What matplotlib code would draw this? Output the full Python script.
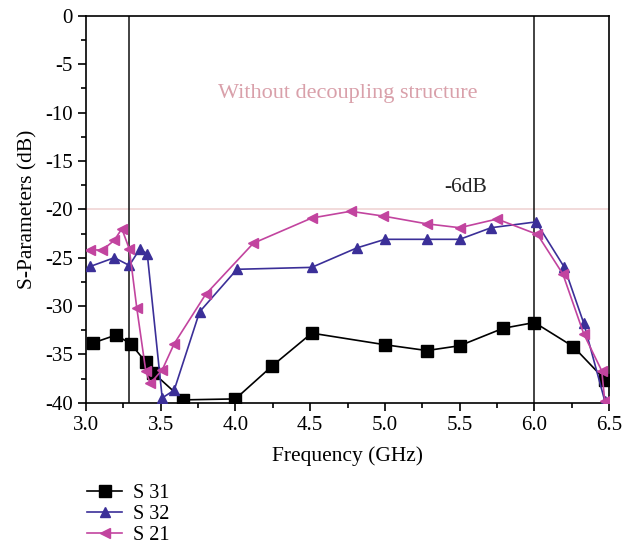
import matplotlib
matplotlib.use("Agg")
import matplotlib.pyplot as plt
from matplotlib.ticker import MultipleLocator

plt.rcParams['font.family'] = ['Liberation Serif', 'DejaVu Serif']
plt.rcParams['axes.unicode_minus'] = False

# S31 (black squares)
f31 = [3.05, 3.20, 3.30, 3.40, 3.45, 3.65, 4.00, 4.245, 4.51, 5.00, 5.28, 5.50, 5.79, 6.00, 6.26, 6.47]
s31 = [-33.8, -33.0, -33.9, -35.8, -36.9, -39.7, -39.6, -36.2, -32.8, -34.0, -34.6, -34.1, -32.3, -31.7, -34.2, -37.6]

# S32 (blue triangles)
f32 = [3.03, 3.19, 3.29, 3.36, 3.41, 3.51, 3.59, 3.76, 4.01, 4.51, 4.81, 5.00, 5.28, 5.50, 5.71, 6.01, 6.20, 6.33, 6.47]
s32 = [-25.9, -25.0, -25.8, -24.1, -24.6, -39.5, -38.7, -30.6, -26.2, -26.0, -24.0, -23.1, -23.1, -23.1, -21.9, -21.3, -26.0, -31.8, -39.8]

# S21 (pink left triangles)
f21 = [3.03, 3.11, 3.19, 3.24, 3.29, 3.34, 3.40, 3.43, 3.51, 3.59, 3.80, 4.12, 4.51, 4.77, 4.99, 5.28, 5.50, 5.75, 6.02, 6.19, 6.33, 6.45, 6.47]
s21 = [-24.2, -24.2, -23.2, -22.0, -24.1, -30.2, -36.7, -38.0, -36.6, -33.9, -28.8, -23.5, -20.9, -20.2, -20.7, -21.5, -21.9, -21.0, -22.6, -26.7, -32.9, -36.7, -39.8]

band_edges = [3.286, 6.0]
ref_level = -20

fig = plt.figure(figsize=(6.32, 5.48), dpi=100)
ax = fig.add_axes([0.136, 0.265, 0.828, 0.706])

ax.axhline(ref_level, color='#f0d4d4', lw=1.2, zorder=1)
for b in band_edges:
    ax.axvline(b, color='#222222', lw=1.2, zorder=1)

ax.plot(f31, s31, color='black', lw=1.2, marker='s', ms=8.5, label='S 31', zorder=3)
ax.plot(f32, s32, color='#3b2f98', lw=1.2, marker='^', ms=7, label='S 32', zorder=3)
ax.plot(f21, s21, color='#c2449f', lw=1.2, marker='<', ms=7, label='S 21', zorder=3)

ax.text(4.75, -8.0, 'Without decoupling structure', color='#d9a0aa', fontsize=16, ha='center', va='center')
ax.text(5.54, -17.7, '-6dB', color='#222222', fontsize=15.5, ha='center', va='center')

ax.set_xlim(3.0, 6.5)
ax.set_ylim(-40, 0)
ax.xaxis.set_minor_locator(MultipleLocator(0.25))
ax.yaxis.set_major_locator(MultipleLocator(5))
ax.yaxis.set_minor_locator(MultipleLocator(2.5))
ax.set_xticks([3.0, 3.5, 4.0, 4.5, 5.0, 5.5, 6.0, 6.5])
ax.set_xticklabels(['3.0', '3.5', '4.0', '4.5', '5.0', '5.5', '6.0', '6.5'])
ax.tick_params(which='major', direction='out', length=6, width=1.2, labelsize=15)
ax.tick_params(which='minor', direction='out', length=3.5, width=1.2)
for s in ax.spines.values():
    s.set_linewidth(1.2)

ax.set_xlabel('Frequency (GHz)', fontsize=15.5, labelpad=8)
ax.set_ylabel('S-Parameters (dB)', fontsize=15.5, labelpad=5)

fig.legend(loc='upper left', bbox_to_anchor=(0.125, 0.132), frameon=False, fontsize=14.5,
           handlelength=1.75, labelspacing=0.1, borderaxespad=0, handletextpad=0.55)

fig.savefig('out.png', dpi=100)
